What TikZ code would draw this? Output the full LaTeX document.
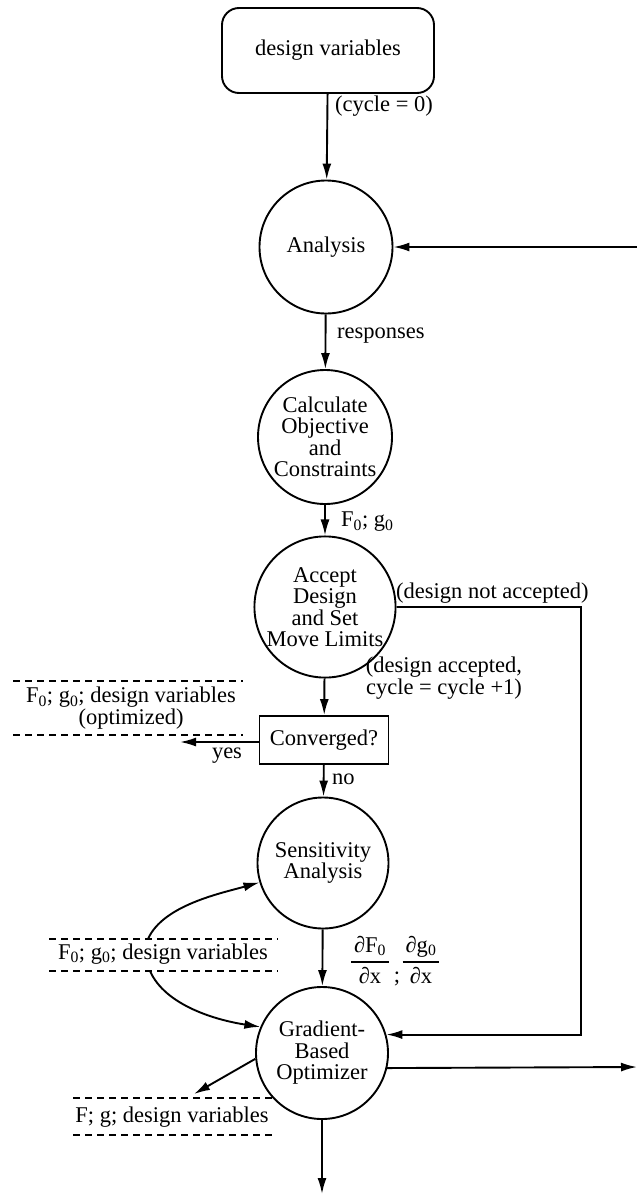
\documentclass[tikz,border=0pt]{standalone}
\usepackage{fontspec}
\setmainfont{Liberation Serif}
\usetikzlibrary{arrows.meta}
\newcommand\zsub{\textsubscript{0}}
\newcommand\dfracbox[2]{%
  {\renewcommand\arraystretch{1.4}\setlength\arrayrulewidth{1.3pt}%
   \begin{tabular}{@{\hspace{3pt}}c@{\hspace{3pt}}}#1\\\hline #2\end{tabular}}}
\begin{document}
\begin{tikzpicture}[x=1pt,y=-1pt,
  every node/.style={font=\fontsize{22.5}{21.5}\selectfont},
  proc/.style={draw, circle, line width=1.9pt, inner sep=0pt, align=center},
  flow/.style={line width=1.9pt, -{Latex[length=16pt,width=9pt]}},
  store/.style={line width=1.6pt, dash pattern=on 7pt off 5pt},
  lbl/.style={inner sep=0pt, align=center},
]
\useasboundingbox (0,0) rectangle (637,1194);

% process chain
\node[draw, rounded corners=17pt, line width=1.9pt, minimum width=212pt,
      minimum height=85pt] (dv) at (328,50.5) {design variables};
\node[proc, minimum size=133pt] (ana)  at (326,247)  {Analysis};
\node[proc, minimum size=134pt] (calc) at (325,437)  {Calculate\\Objective\\and\\Constraints};
\node[proc, minimum size=136pt] (acc)  at (325,607)  {Accept\\Design\\and Set\\Move Limits};
\node[draw, line width=1.9pt, minimum width=129pt, minimum height=48pt]
      (conv) at (324,740) {Converged?};
\node[proc, minimum size=131pt] (sens) at (323,863)  {Sensitivity\\Analysis};
\node[proc, minimum size=132pt] (grad) at (322,1053) {Gradient-\\Based\\Optimizer};

% main vertical flow
\draw[flow] (dv) -- (ana);
\draw[flow] (ana) -- (calc);
\draw[flow] (calc) -- (acc);
\draw[flow] (acc) -- (conv);
\draw[flow] (conv) -- (sens);
\draw[flow] (sens) -- (grad);
\coordinate (bot) at (322,1194);
\draw[flow] (grad) -- (bot);

% flow labels
\node[lbl, anchor=west] (l0) at (335,106) {(cycle = 0)};
\node[lbl, anchor=west] (l1) at (337,336) {responses};
\node[lbl, anchor=west] (l2) at (341,522) {F\zsub; g\zsub};
\node[lbl, anchor=west] (l3) at (396,593) {(design not accepted)};
\node[lbl] (l4) at (444,678) {(design accepted,\\cycle = cycle +1)};
\node[lbl, anchor=west] (l5) at (332,779) {no};
\node[lbl] (l6) at (227,756) {yes};

% feedback loops on the right
\coordinate (fb) at (637,247);
\draw[flow] (fb) -- (ana);
\coordinate (nr) at (581,607);
\draw[flow] (acc.east) -- (nr) |- (grad.16);
\coordinate (gout) at (637,1067);
\draw[flow] (grad.-13) -- (gout);

% converged output store
\coordinate (yes) at (180,742);
\draw[flow] (conv.west |- yes) -- (yes);
\draw[store] (13,681) -- (243,681);
\draw[store] (13,735) -- (243,735);
\node[lbl] (s1) at (131,708) {F\zsub; g\zsub; design variables\\(optimized)};

% data store feeding sensitivity analysis and optimizer
\draw[store] (49,939) -- (278,939);
\draw[store] (49,971) -- (278,971);
\node[lbl] (s2) at (163,954) {F\zsub; g\zsub; design variables};
\coordinate (s2a) at (148,939);
\coordinate (s2b) at (150,971);
\draw[flow] (s2a) .. controls (163,905) and (222,893) .. (sens.197);
\draw[flow] (s2b) .. controls (165,1005) and (215,1020) .. (grad.157);

% optimizer output store
\draw[store] (73,1098) -- (272,1098);
\draw[store] (73,1135) -- (272,1135);
\node[lbl] (s3) at (172,1117) {F; g; design variables};
\coordinate (s3a) at (194,1094);
\draw[flow] (grad.185) -- (s3a);

% gradient label
\node[lbl] (dF) at (370,962) {\dfracbox{∂F\zsub}{∂x}};
\node[lbl] (semi) at (397,979) {;};
\node[lbl] (dg) at (421,962) {\dfracbox{∂g\zsub}{∂x}};
\end{tikzpicture}
\end{document}
